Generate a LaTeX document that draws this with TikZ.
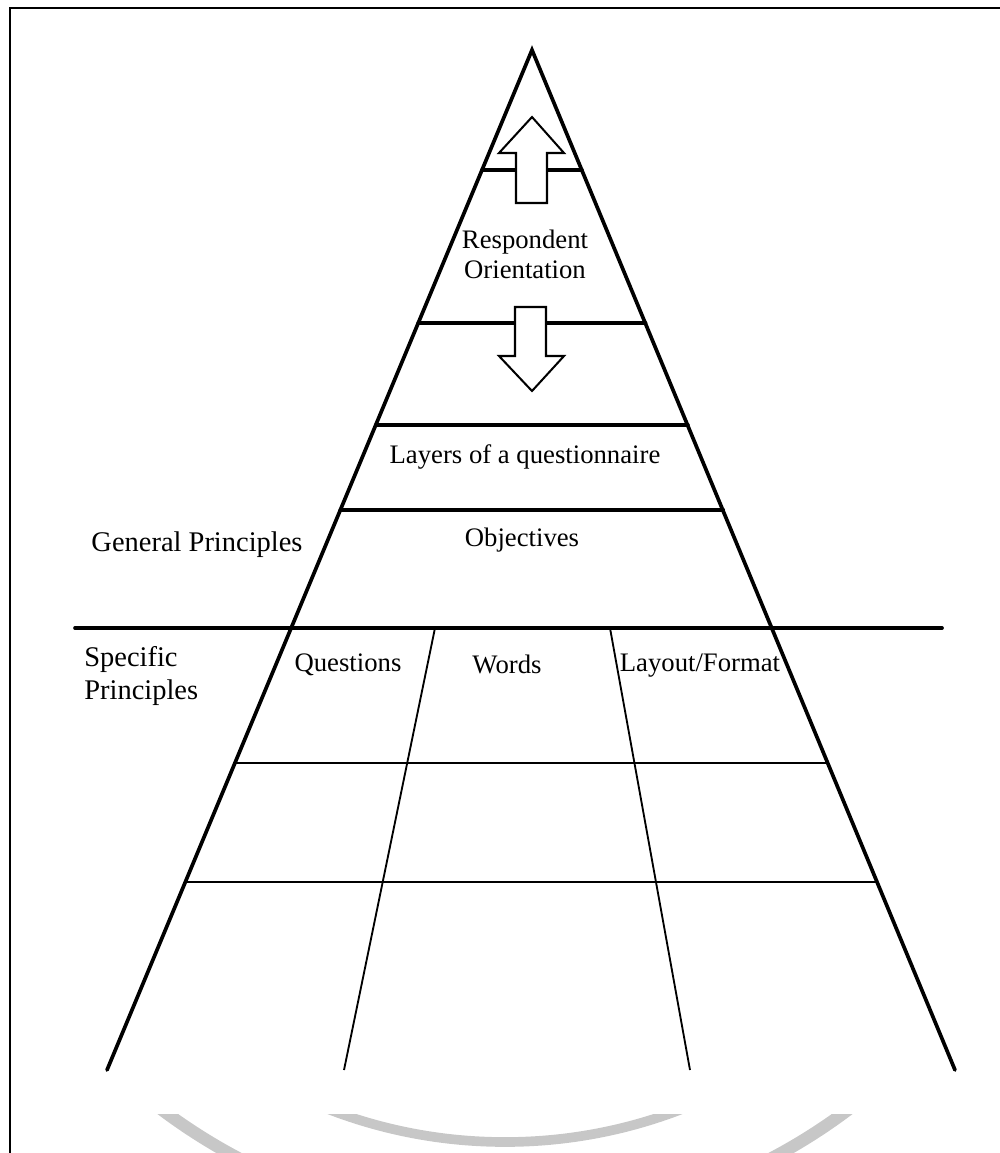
\documentclass[tikz,border=0pt]{standalone}
\usepackage{fontspec}
\setmainfont{Liberation Serif}
\begin{document}
\begin{tikzpicture}[x=0.02cm,y=-0.02cm,
  thickline/.style={line width=2.1pt,line cap=round},
  thinline/.style={line width=1.05pt},
  hollowarrow/.style={draw=black,fill=white,line width=1.15pt,line join=miter},
  innerlbl/.style={font=\fontsize{15.2}{17}\selectfont,inner sep=0pt,align=center},
  sidelbl/.style={font=\fontsize{16.2}{18.5}\selectfont,inner sep=0pt,align=left},
  wmark/.style={draw=black!22}]
\useasboundingbox (0,0) rectangle (1000,1153);
% frame
\draw[line width=1.5pt] (10,1153) -- (10,8) -- (1000,8);
% watermark (partial seal)
\begin{scope}
\clip (0,1114) rectangle (1000,1153);
\draw[wmark,line width=5.5pt] (505,652) circle (490);
\draw[wmark,line width=7pt] (505,652) circle (572);
\end{scope}
% pyramid corners
\coordinate (A) at (532,50);
\coordinate (BL) at (107,1070);
\coordinate (BR) at (955,1070);
% divider lines in the lower part
\coordinate (d1t) at (435,628);
\coordinate (d1b) at (344,1070);
\coordinate (d2t) at (610,628);
\coordinate (d2b) at (690,1070);
\draw[thinline] (d1t) -- (d1b);
\draw[thinline] (d2t) -- (d2b);
% thin horizontal rows
\coordinate (r1l) at (234.9,763);
\coordinate (r1r) at (828.4,763);
\coordinate (r2l) at (185.3,882);
\coordinate (r2r) at (877.9,882);
\draw[thinline] (r1l) -- (r1r);
\draw[thinline] (r2l) -- (r2r);
% thick horizontal layers
\coordinate (h1l) at (482.0,170);
\coordinate (h1r) at (581.9,170);
\coordinate (h2l) at (418.2,323);
\coordinate (h2r) at (645.5,323);
\coordinate (h3l) at (375.8,425);
\coordinate (h3r) at (687.9,425);
\coordinate (h4l) at (340.3,510);
\coordinate (h4r) at (723.2,510);
\coordinate (g1) at (75,628);
\coordinate (g2) at (942,628);
\draw[thickline] (h1l) -- (h1r);
\draw[thickline] (h2l) -- (h2r);
\draw[thickline] (h3l) -- (h3r);
\draw[thickline] (h4l) -- (h4r);
\draw[thickline] (g1) -- (g2);
% pyramid sides
\draw[thickline,line join=miter] (BL) -- (A) -- (BR);
% arrows
\draw[hollowarrow] (516,203) -- (516,153) -- (499,153) -- (532,117) -- (564,153) -- (547,153) -- (547,203) -- cycle;
\draw[hollowarrow] (515,307) -- (546,307) -- (546,356) -- (564,356) -- (532,391) -- (499,356) -- (515,356) -- cycle;
% labels
\node[innerlbl] (resp) at (525,254) {Respondent\\Orientation};
\node[innerlbl] (layers) at (525,457) {Layers of a questionnaire};
\node[innerlbl] (obj) at (522,540) {Objectives};
\node[sidelbl] (gen) at (197,545) {General Principles};
\node[sidelbl,anchor=west] (spec) at (84,676) {Specific\\Principles};
\node[innerlbl] (quest) at (348,665) {Questions};
\node[innerlbl] (words) at (507,664) {Words};
\node[innerlbl] (layout) at (700,666) {Layout/Format};
\end{tikzpicture}
\end{document}
